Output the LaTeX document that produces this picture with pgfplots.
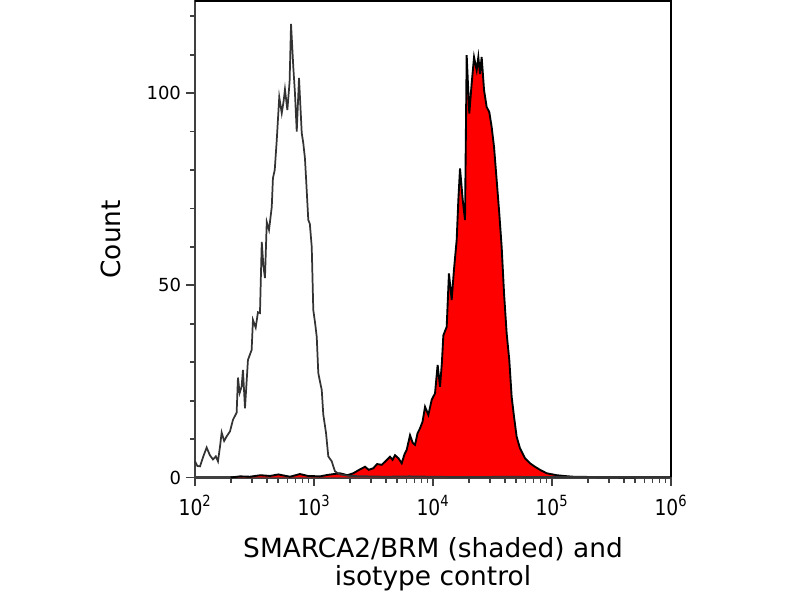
\documentclass[border=0pt]{standalone}
\usepackage{fontspec}
\setmainfont{DejaVu Sans}
\newfontfamily\xtickfont[FakeStretch=0.85]{DejaVu Sans}
\usepackage{pgfplots}
\usepackage{pgfplotstable}
\pgfplotsset{compat=1.18}
\definecolor{iso}{HTML}{333333}
\definecolor{axgray}{HTML}{404040}

\pgfplotstableread{
lx y
2.000 4.2
2.020 3.0
2.042 2.9
2.070 5.5
2.098 7.8
2.125 5.8
2.151 4.7
2.175 5.5
2.193 4.2
2.210 8.0
2.224 11.7
2.245 9.5
2.266 10.7
2.294 12.0
2.319 15.0
2.350 16.9
2.361 26.0
2.375 22.0
2.392 23.7
2.403 28.0
2.420 18.0
2.445 30.6
2.476 33.2
2.487 41.0
2.510 39.0
2.529 43.0
2.546 42.8
2.561 61.3
2.575 55.0
2.588 51.9
2.603 66.5
2.622 64.4
2.645 70.4
2.655 77.9
2.670 80.0
2.687 87.8
2.708 99.0
2.729 94.8
2.745 98.0
2.756 101.0
2.776 95.6
2.795 103.0
2.807 118.0
2.826 106.8
2.840 100.0
2.855 90.0
2.874 104.0
2.897 89.6
2.910 87.0
2.924 83.0
2.933 78.0
2.952 67.0
2.965 66.0
2.981 60.0
2.994 43.6
3.010 40.0
3.023 36.6
3.036 27.2
3.050 25.0
3.065 22.8
3.078 16.4
3.101 11.6
3.120 5.5
3.149 4.2
3.176 1.6
3.218 0.8
3.300 0.4
3.450 0.3
3.600 0.2
3.800 0.3
4.000 0.2
4.300 0.1
4.600 0.2
5.000 0.1
5.500 0.1
6.000 0.1
}\isotab

\pgfplotstableread{
lx y
2.300 0.0
2.380 0.3
2.462 0.2
2.550 0.6
2.630 0.4
2.700 0.8
2.798 0.2
2.882 0.9
2.950 0.4
3.050 0.3
3.120 0.7
3.218 1.1
3.280 0.6
3.330 1.1
3.380 2.0
3.429 2.8
3.460 2.0
3.498 2.4
3.530 3.5
3.569 3.3
3.600 4.2
3.639 5.4
3.660 4.6
3.681 5.8
3.710 5.0
3.737 3.7
3.760 6.0
3.779 7.2
3.807 11.0
3.830 9.0
3.849 8.5
3.870 11.5
3.891 12.8
3.912 14.5
3.933 18.4
3.961 16.3
3.989 20.2
4.017 21.9
4.039 29.3
4.059 23.6
4.075 30.0
4.087 37.0
4.115 39.2
4.134 53.1
4.157 46.2
4.176 54.0
4.199 61.8
4.213 72.2
4.227 80.4
4.250 72.2
4.269 67.0
4.283 109.9
4.305 94.7
4.325 102.5
4.345 109.4
4.367 106.0
4.381 109.4
4.395 105.0
4.409 109.4
4.429 100.8
4.451 96.4
4.473 95.1
4.493 91.2
4.513 86.0
4.535 77.4
4.557 68.7
4.577 60.0
4.597 47.9
4.619 37.5
4.641 30.6
4.661 21.0
4.681 15.8
4.703 10.6
4.731 7.6
4.773 5.0
4.815 3.7
4.857 2.8
4.899 2.0
4.955 1.1
5.039 0.6
5.100 0.4
5.179 0.2
5.400 0.1
5.700 0.0
}\redtab

\begin{document}
\begin{tikzpicture}
\useasboundingbox (0,0) rectangle (600pt,450pt);
\fill[white] (0,0) rectangle (600pt,450pt);
\begin{axis}[
  at={(146.25pt,91.875pt)}, anchor=south west,
  scale only axis, width=357pt, height=357.4pt,
  xmin=2, xmax=6, ymin=0, ymax=124,
  clip=false,
  xtick={2,3,4,5,6},
  xticklabels={10\textsuperscript{2},10\textsuperscript{3},10\textsuperscript{4},10\textsuperscript{5},10\textsuperscript{6}},
  minor xtick={2.30103,2.47712,2.60206,2.69897,2.77815,2.84510,2.90309,2.95424,
               3.30103,3.47712,3.60206,3.69897,3.77815,3.84510,3.90309,3.95424,
               4.30103,4.47712,4.60206,4.69897,4.77815,4.84510,4.90309,4.95424,
               5.30103,5.47712,5.60206,5.69897,5.77815,5.84510,5.90309,5.95424},
  ytick={0,50,100},
  minor ytick={10,20,30,40,60,70,80,90,110,120},
  tick align=outside, xtick pos=bottom, ytick pos=left,
  major tick length=6.5pt, minor tick length=3.8pt,
  tick style={axgray, line width=1.3pt},
  axis line style={axgray, line width=1.5pt},
  /pgf/number format/assume math mode=true,
  xticklabel style={font=\xtickfont\fontsize{16.5}{19}\selectfont, yshift=-3.5pt},
  yticklabel style={font=\fontsize{13.5}{16}\selectfont, xshift=-0.5pt},
  xlabel={SMARCA2/BRM (shaded) and\\isotype control},
  xlabel style={at={(axis description cs:0.5,-0.125)}, anchor=north, align=center,
    inner sep=0pt, font=\fontsize{19.8}{21}\selectfont},
  ylabel={Count},
  ylabel style={at={(axis description cs:-0.177,0.5)}, anchor=center, rotate=0,
    inner sep=0pt, font=\fontsize{19.8}{21}\selectfont},
]
\addplot[draw=none, fill=red] table[x=lx, y=y] {\redtab} \closedcycle;
\addplot[black, line width=1.4pt] table[x=lx, y=y] {\redtab};
\addplot[iso, line width=1.3pt] table[x=lx, y=y] {\isotab};
\draw[black, line width=1.8pt] (rel axis cs:0,1) -- (rel axis cs:1,1) -- (rel axis cs:1,0);
\end{axis}
\end{tikzpicture}
\end{document}
